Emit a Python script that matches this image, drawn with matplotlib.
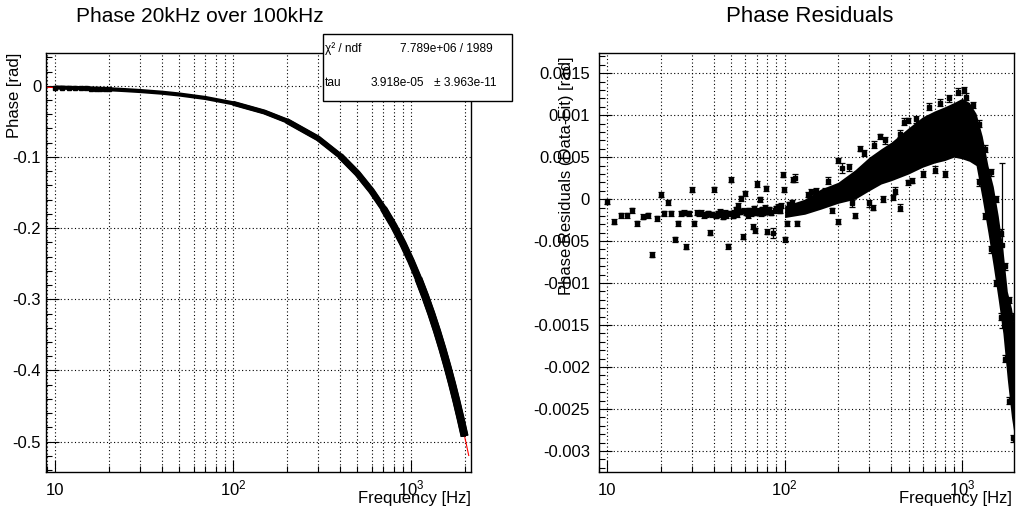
import matplotlib
matplotlib.use("Agg")
import matplotlib.pyplot as plt
from matplotlib.patches import Rectangle
from matplotlib.ticker import (FixedLocator, FixedFormatter, FuncFormatter,
                               LogLocator, MultipleLocator, NullFormatter)

plt.rcParams["font.family"] = ["Liberation Sans", "DejaVu Sans"]
plt.rcParams["mathtext.fontset"] = "custom"
plt.rcParams["mathtext.rm"] = "Liberation Sans"
plt.rcParams["mathtext.it"] = "Liberation Sans:italic"

# %% data
# left pad: measured phase (the points sit on the fit at this scale)
phase_f = [10, 11, 12, 13, 14, 15, 16, 17, 18, 19, 20, 25, 30, 40, 50, 70, 100,
           150, 200, 300, 400, 500, 600, 700, 800, 900, 1000, 1100, 1200, 1300,
           1400, 1500, 1600, 1700, 1800, 1900, 2000]
phase_val = [-0.0025, -0.0027, -0.0030, -0.0032, -0.0034, -0.0037, -0.0039,
             -0.0042, -0.0044, -0.0047, -0.0049, -0.0062, -0.0074, -0.0098,
             -0.0123, -0.0172, -0.0246, -0.0369, -0.0492, -0.0738, -0.0985,
             -0.1231, -0.1477, -0.1723, -0.1969, -0.2216, -0.2462, -0.2708,
             -0.2954, -0.3200, -0.3446, -0.3693, -0.3939, -0.4185, -0.4431,
             -0.4677, -0.4923]

# red fit curve
fit_f = [8.9, 10, 20, 50, 100, 200, 300, 500, 700, 1000, 1200, 1400, 1600,
         1800, 2000, 2110]
fit_val = [-0.0022, -0.0025, -0.0049, -0.0123, -0.0246, -0.0492, -0.0738,
           -0.1231, -0.1723, -0.2462, -0.2954, -0.3446, -0.3939, -0.4431,
           -0.4923, -0.5194]

# stats box
chi2_ndf = "7.789e+06 / 1989"
tau_val = "3.918e-05"
tau_err = "3.963e-11"

# right pad: dense part of the residual cloud (lower / upper edge)
band_f = [100, 130, 160, 200, 250, 300, 350, 400, 500, 600, 700, 800, 900,
          1000, 1100, 1200, 1300, 1400, 1500, 1600, 1700, 1800, 1900, 1999]
band_lo = [-0.00022, -0.00018, -0.00012, -0.00005, 0.0, 0.0001, 0.00018,
           0.00022, 0.0003, 0.00038, 0.00043, 0.00046, 0.0005, 0.00048,
           0.00045, 0.0004, 0.0, -0.0004, -0.0008, -0.0012, -0.0016, -0.00215,
           -0.0026, -0.0029]
band_hi = [-0.00008, 0.0, 0.00012, 0.0002, 0.00035, 0.0005, 0.0006, 0.00068,
           0.00085, 0.00098, 0.00105, 0.0011, 0.00115, 0.0012, 0.00115,
           0.00102, 0.00075, 0.0004, 0.00015, -0.0002, -0.0006, -0.0011,
           -0.0013, -0.0016]

# right pad: single residual points with error bars
res_f = [10, 10.9, 11.9, 12.9, 13.8, 14.8, 16, 17, 18, 19, 20, 21, 22, 23,
         24, 25, 26, 27, 28, 29, 30, 31, 32, 33, 34, 35, 36, 37, 38, 39, 40,
         41, 42, 43, 44, 45, 46, 47, 48, 49, 50, 51, 52, 53, 54, 55, 56, 57,
         58, 59, 60, 61, 62, 63, 64, 65, 66, 67, 68, 69, 70, 71, 72, 73, 74,
         75, 76, 77, 78, 79, 80, 81, 82, 84, 86, 88, 90, 92, 94, 96, 98, 99,
         100, 103, 106, 110, 112, 114, 118, 125, 135, 150, 170, 185, 199, 201,
         210, 250, 267, 314, 344, 410, 494, 494, 520, 1670]
res_r = [-0.00003, -0.00027, -0.00019, -0.00019, -0.00013, -0.00029, -0.00021,
         -0.00019, -0.00066, -0.00023, 0.00005, -0.00017, -0.00004, -0.00017,
         -0.00048, -0.00029, -0.00017, -0.00016, -0.00057, -0.00017, 0.00011,
         -0.00029, -0.00016, -0.00017, -0.00016, -0.00019, -0.00018, -0.00017,
         -0.0004, -0.00018, 0.00012, -0.0002, -0.00017, -0.00015, -0.00018,
         -0.00021, -0.00016, -0.00019, -0.00056, -0.00017, 0.00023, -0.0002,
         -0.00016, -0.00012, -0.00018, -0.00008, -0.00015, 0.00001, -0.00045,
         -0.00014, 0.00007, -0.00016, -0.00019, -0.00013, -0.00015, -0.00017,
         -0.00033, -0.00011, -0.00037, -0.00016, 0.00018, -0.00015, -0.00014,
         0.0, -0.00017, -0.00012, -0.00016, -0.00013, -0.0001, 0.00013,
         -0.00039, -0.00015, -0.00012, -0.00016, -0.0004, -0.00013, -0.00011,
         -0.00009, -0.00014, -0.00008, 0.00029, 0.00011, -0.00048, -0.00029,
         -0.00006, -0.00004, 0.00023, 0.00025, -0.00029, -0.0001, 0.00005,
         0.0001, 0.0001, -0.00013, 0.00046, -0.00027, 0.00037, -0.0002, 0.0006,
         -0.0001, 0.00075, 0.00002, 0.0002, 0.00094, 0.00022, -0.00055]
res_err = [0.00003] * 74 + [0.00006] + [0.00003] * 12 + [0.00005] + \
          [0.00003] * 8 + [0.00006] + [0.00003] * 8 + [0.00098]

# right pad: points sticking out of the dense cloud
edge_f = [140, 175, 230, 280, 320, 370, 450, 470, 550, 650, 750, 850, 950,
          1020, 1050, 1150, 1250, 1350, 1450, 1550, 1650, 1750, 1850, 1950,
          240, 300, 360, 420, 450, 600, 700, 800, 1250, 1350, 1450, 1550,
          1650, 1750, 1850, 1950]
edge_r = [0.00008, 0.00022, 0.00038, 0.00055, 0.00065, 0.0007, 0.00078,
          0.00092, 0.00095, 0.0011, 0.00115, 0.0012, 0.00128, 0.0013, 0.00122,
          0.00112, 0.0009, 0.0006, 0.00032, 0.0, -0.0004, -0.0008, -0.0012,
          -0.0014, -0.00005, -0.00005, 0.0, 0.0001, -0.0001, 0.0003, 0.00035,
          0.0003, 0.0002, -0.0002, -0.0006, -0.001, -0.0014, -0.0019, -0.0024,
          -0.00285]

# %% figure
W, H = 1016, 514
fig = plt.figure(figsize=(W / 100, H / 100), dpi=100)


def px_axes(x0, y0, x1, y1):
    return fig.add_axes([x0 / W, 1 - y1 / H, (x1 - x0) / W, (y1 - y0) / H])


def num_fmt(v, _pos):
    v = round(v, 6)
    if v == 0:
        return "0"
    return f"{v:g}"


def root_style(ax, ypad):
    ax.set_xscale("log")
    ax.xaxis.set_major_locator(FixedLocator([10, 100, 1000]))
    ax.xaxis.set_major_formatter(FixedFormatter(["10", r"$10^{2}$", r"$10^{3}$"]))
    ax.xaxis.set_minor_locator(LogLocator(base=10, subs=range(2, 10), numticks=20))
    ax.xaxis.set_minor_formatter(NullFormatter())
    ax.yaxis.set_major_formatter(FuncFormatter(num_fmt))
    ax.tick_params(which="both", direction="in", top=False, right=False,
                   width=0.8, labelsize=12, colors="k")
    ax.tick_params(which="major", length=9)
    ax.tick_params(which="minor", length=4.5)
    ax.tick_params(axis="x", pad=16.5)
    ax.tick_params(axis="y", pad=ypad)
    for t in ax.xaxis.get_major_ticks():
        t.label1.set_verticalalignment("baseline")
    ax.grid(True, which="both", axis="x", ls=(0, (1, 2.2)), color="k", lw=0.8)
    ax.grid(True, which="major", axis="y", ls=(0, (1, 2.2)), color="k", lw=0.8)
    ax.set_axisbelow(True)
    for s in ax.spines.values():
        s.set_linewidth(1.0)


# left pad
ax1 = px_axes(46, 53, 471, 472)
root_style(ax1, 3.5)
ax1.set_xlim(8.9, 2173)
ax1.set_ylim(-0.5426, 0.046)
ax1.yaxis.set_major_locator(MultipleLocator(0.1))
ax1.yaxis.set_minor_locator(MultipleLocator(0.02))
ax1.plot(fit_f, fit_val, color="red", lw=0.8, zorder=2)
# the band of markers gets thicker towards high frequency
for start, lw in [(0, 3.0), (16, 3.6), (18, 4.2), (20, 4.8), (23, 5.4), (27, 5.8)]:
    ax1.plot(phase_f[start:], phase_val[start:], color="k", lw=lw,
             solid_capstyle="butt", zorder=3)
ax1.plot(phase_f[:11], phase_val[:11], ls="none", marker="s", ms=3.5, color="k", zorder=3)

# right pad
ax2 = px_axes(599, 53, 1014, 472)
root_style(ax2, 6.5)
ax2.set_xlim(9.0, 1963)
ax2.set_ylim(-0.00325, 0.00174)
ax2.yaxis.set_major_locator(MultipleLocator(0.0005))
ax2.yaxis.set_minor_locator(MultipleLocator(0.0001))
ax2.fill_between(band_f, band_lo, band_hi, color="k", lw=0, zorder=2)
ax2.errorbar(edge_f, edge_r, yerr=0.00004, fmt="s", ms=3, color="k",
             elinewidth=0.9, capsize=2.5, capthick=0.9, zorder=3)
ax2.errorbar(res_f, res_r, yerr=res_err, fmt="s", ms=2.5, color="k",
             elinewidth=0.9, capsize=2.5, capthick=0.9, zorder=3)

# titles and axis titles
fig.text(200 / W, 1 - 16 / H, "Phase 20kHz over 100kHz", ha="center", va="center", fontsize=15)
fig.text(810 / W, 1 - 16 / H, "Phase Residuals", ha="center", va="center", fontsize=16)
fig.text(15 / W, 1 - 53 / H, "Phase [rad]", rotation=90, ha="center", va="top", fontsize=12)
fig.text(567 / W, 1 - 56 / H, "Phase Residuals (Data-Fit) [rad]", rotation=90,
         ha="center", va="top", fontsize=12)
fig.text(471 / W, 1 - 499 / H, "Frequency [Hz]", ha="right", va="center", fontsize=12)
fig.text(1012 / W, 1 - 499 / H, "Frequency [Hz]", ha="right", va="center", fontsize=12)

# stats box
fig.add_artist(Rectangle((323 / W, 1 - 101 / H), (512 - 323) / W, (101 - 34) / H,
                         transform=fig.transFigure, fc="white", ec="k", lw=1.0, zorder=10))
fig.text(325 / W, 1 - 49 / H, "χ² / ndf", ha="left", va="center", fontsize=8.6, zorder=11)
fig.text(493 / W, 1 - 49 / H, chi2_ndf, ha="right", va="center", fontsize=8.6, zorder=11)
fig.text(325 / W, 1 - 83 / H, "tau", ha="left", va="center", fontsize=8.6, zorder=11)
fig.text(424 / W, 1 - 83 / H, tau_val, ha="right", va="center", fontsize=8.6, zorder=11)
fig.text(497 / W, 1 - 83 / H, "± " + tau_err, ha="right", va="center", fontsize=8.6, zorder=11)

fig.savefig("out.png", dpi=100)
